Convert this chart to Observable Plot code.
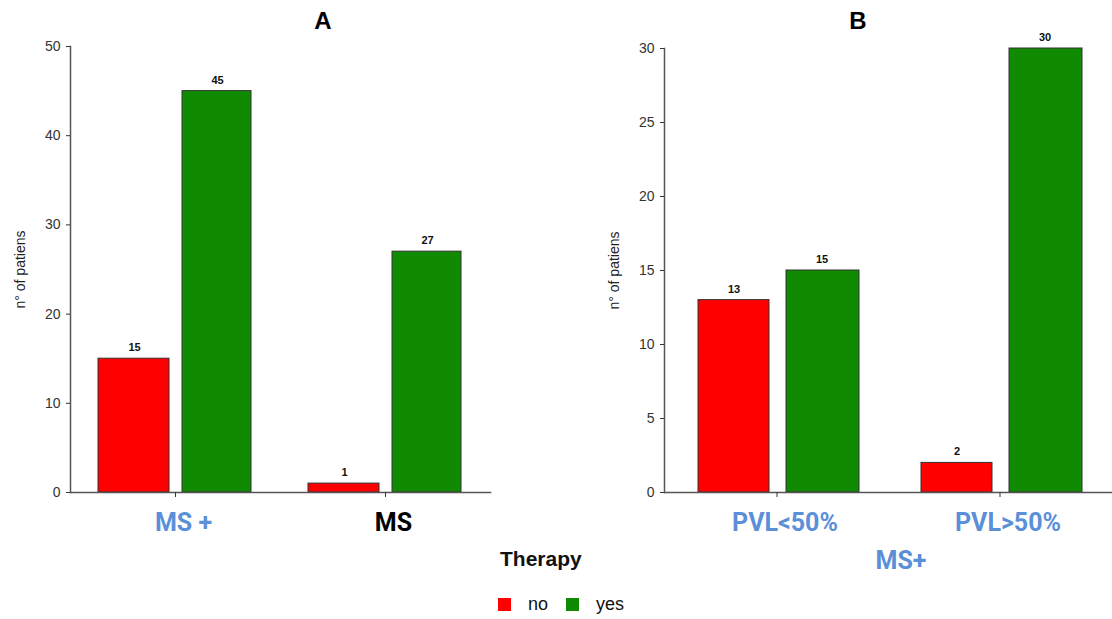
<!DOCTYPE html>
<html>
<head>
<meta charset="utf-8">
<script src="https://cdn.jsdelivr.net/npm/d3@7"></script>
<script src="https://cdn.jsdelivr.net/npm/@observablehq/plot@0.6"></script>
<style>
  html, body { margin: 0; padding: 0; background: #fff; }
  #root { position: relative; width: 1112px; height: 619px; overflow: hidden; font-family: "Liberation Sans", Arial, sans-serif; }
  .panel { position: absolute; top: 0; }
  .title { position: absolute; font-weight: bold; font-size: 24px; color: #000; transform: translate(-50%, -50%); }
  .legend-title { position: absolute; left: 500px; top: 547px; font-weight: bold; font-size: 21px; color: #111; }
  .legend-item { position: absolute; top: 594px; font-size: 18px; color: #111; display: flex; align-items: center; }
  .swatch { width: 13px; height: 13px; display: inline-block; margin-right: 17px; }
  .subcat { position: absolute; font-family: Roboto, sans-serif; font-weight: bold; font-size: 25px; color: #5b8fd8; transform: translate(-50%, -50%); }
</style>
</head>
<body>
<div id="root"></div>
<script>
// ---- data ----
const panelACategories = ["MS +", "MS"];
const panelANo = [15, 1];
const panelAYes = [45, 27];
const panelAyTicks = [0, 10, 20, 30, 40, 50];

const panelBCategories = ["PVL<50%", "PVL>50%"];
const panelBNo = [13, 2];
const panelBYes = [15, 30];
const panelByTicks = [0, 5, 10, 15, 20, 25, 30];

const therapyLevels = ["no", "yes"];
const panelTitles = ["A", "B"];
const yLabel = "n° of patiens";
const panelBGroupLabel = "MS+";
const legendTitle = "Therapy";

// ---- styles ----
const RED = "#ff0000";
const GREEN = "#108a00";
const BLUE = "#5b8fd8";

function rows(cats, no, yes) {
  return cats.flatMap((c, i) => [
    {category: c, therapy: "no", value: no[i]},
    {category: c, therapy: "yes", value: yes[i]}
  ]);
}

function panel({cats, data, ticks, ymax, marginLeft, marginRight, marginTop, inset, labelDx, labelColor}) {
  const no = data.filter(d => d.therapy === "no");
  const yes = data.filter(d => d.therapy === "yes");
  return Plot.plot({
    width: 556,
    height: 545,
    marginLeft, marginRight, marginTop,
    marginBottom: 53,
    style: {fontFamily: "'Liberation Sans', Arial, sans-serif", background: "transparent", overflow: "visible"},
    x: {domain: cats, padding: 0, axis: null},
    y: {domain: [0, ymax], axis: null},
    marks: [
      Plot.barY(no, {x: "category", y1: 0, y2: "value", fill: RED, stroke: "#333", strokeWidth: 1,
        insetLeft: inset.redL, insetRight: inset.redR}),
      Plot.barY(yes, {x: "category", y1: 0, y2: "value", fill: GREEN, stroke: "#333", strokeWidth: 1,
        insetLeft: inset.greenL, insetRight: inset.greenR}),
      Plot.text(no, {x: "category", y: "value", text: d => String(d.value), dx: labelDx.red, dy: -11,
        fontSize: 11, fontWeight: "bold", fill: "#111"}),
      Plot.text(yes, {x: "category", y: "value", text: d => String(d.value), dx: labelDx.green, dy: -11,
        fontSize: 11, fontWeight: "bold", fill: "#111"}),
      Plot.axisY({ticks, tickSize: 4, tickPadding: 6, fontSize: 14, color: "#333", label: null}),
      Plot.frame({anchor: "left", stroke: "#555", strokeWidth: 1.5}),
      Plot.frame({anchor: "bottom", stroke: "#555", strokeWidth: 1.5}),
      Plot.axisX({tickSize: 5, tickFormat: () => "", color: "#333", label: null}),
      Plot.text(cats, {x: d => d, frameAnchor: "bottom", dx: 8, dy: 38, text: d => d,
        fontSize: 25, fontWeight: "bold", fontFamily: "Roboto, sans-serif", fill: labelColor}),
      Plot.text([yLabel], {frameAnchor: "left", textAnchor: "middle", dx: -50, rotate: -90, text: d => d,
        fontSize: 14, fill: "#222"})
    ]
  });
}

const root = document.getElementById("root");

const plotA = panel({
  cats: panelACategories,
  data: rows(panelACategories, panelANo, panelAYes),
  ticks: panelAyTicks, ymax: 50,
  marginLeft: 70, marginRight: 66, marginTop: 46,
  inset: {redL: 28, redR: 111, greenL: 112, greenR: 29},
  labelDx: {red: -41, green: 42},
  labelColor: d => d === "MS" ? "#000" : BLUE
});
plotA.classList.add("panel");
plotA.style.left = "0px";
root.appendChild(plotA);

const plotB = panel({
  cats: panelBCategories,
  data: rows(panelBCategories, panelBNo, panelBYes),
  ticks: panelByTicks, ymax: 30,
  marginLeft: 108, marginRight: 1, marginTop: 48,
  inset: {redL: 33, redR: 119, greenL: 121, greenR: 29},
  labelDx: {red: -43, green: 45},
  labelColor: () => BLUE
});
plotB.classList.add("panel");
plotB.style.left = "556px";
root.appendChild(plotB);

// titles
[[panelTitles[0], 323], [panelTitles[1], 858]].forEach(([t, x]) => {
  const el = document.createElement("div");
  el.className = "title";
  el.textContent = t;
  el.style.left = x + "px";
  el.style.top = "21px";
  root.appendChild(el);
});

// group label under panel B
const sub = document.createElement("div");
sub.className = "subcat";
sub.textContent = panelBGroupLabel;
sub.style.left = "901px";
sub.style.top = "560px";
root.appendChild(sub);

// legend
const lt = document.createElement("div");
lt.className = "legend-title";
lt.textContent = legendTitle;
root.appendChild(lt);
const legendColors = {no: RED, yes: GREEN};
const legendX = {no: 498, yes: 566};
therapyLevels.forEach(level => {
  const item = document.createElement("div");
  item.className = "legend-item";
  item.style.left = legendX[level] + "px";
  const sw = document.createElement("span");
  sw.className = "swatch";
  sw.style.background = legendColors[level];
  const tx = document.createElement("span");
  tx.textContent = level;
  item.appendChild(sw);
  item.appendChild(tx);
  root.appendChild(item);
});
</script>
</body>
</html>
